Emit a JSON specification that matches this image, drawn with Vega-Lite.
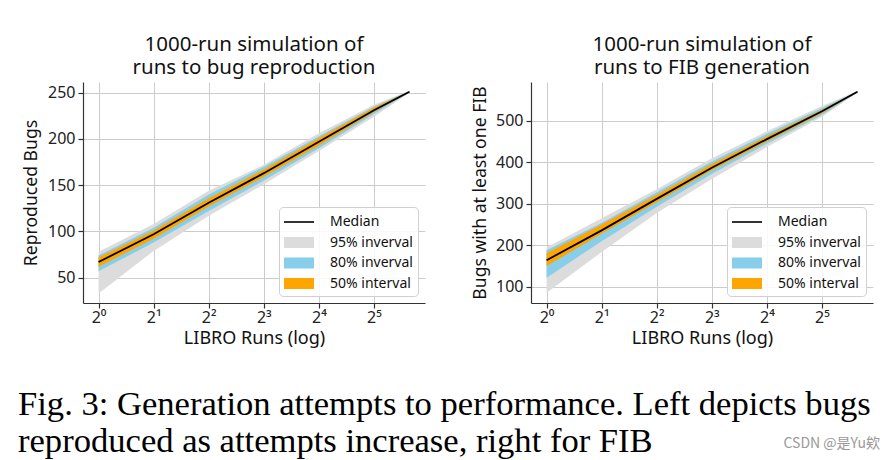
{
  "$schema": "https://vega.github.io/schema/vega-lite/v6.json",
  "autosize": {"type": "pad"},
  "padding": {"left": 18, "top": 34, "right": 0, "bottom": 0},
  "background": "white",
  "datasets": {
    "bugs": [
      {"runs": 1, "median": 67, "lo95": 33, "hi95": 78, "lo80": 57, "hi80": 74, "lo50": 62, "hi50": 72},
      {"runs": 2, "median": 97, "lo95": 79, "hi95": 108, "lo80": 88, "hi80": 104, "lo50": 92, "hi50": 101},
      {"runs": 4, "median": 131, "lo95": 117, "hi95": 144, "lo80": 122, "hi80": 140, "lo50": 127, "hi50": 136},
      {"runs": 8, "median": 163, "lo95": 151, "hi95": 172, "lo80": 155, "hi80": 170, "lo50": 159, "hi50": 167},
      {"runs": 16, "median": 197, "lo95": 187, "hi95": 206, "lo80": 190, "hi80": 203, "lo50": 193, "hi50": 201},
      {"runs": 32, "median": 231, "lo95": 224, "hi95": 237, "lo80": 227, "hi80": 235, "lo50": 229, "hi50": 234},
      {"runs": 50, "median": 251, "lo95": 250, "hi95": 252, "lo80": 250.5, "hi80": 251.5, "lo50": 250.8, "hi50": 251.2}
    ],
    "fib": [
      {"runs": 1, "median": 164, "lo95": 86, "hi95": 195, "lo80": 122, "hi80": 188, "lo50": 150, "hi50": 181},
      {"runs": 2, "median": 236, "lo95": 184, "hi95": 265, "lo80": 210, "hi80": 254, "lo50": 228, "hi50": 250},
      {"runs": 4, "median": 312, "lo95": 278, "hi95": 335, "lo80": 293, "hi80": 328, "lo50": 304, "hi50": 322},
      {"runs": 8, "median": 387, "lo95": 360, "hi95": 410, "lo80": 372, "hi80": 402, "lo50": 381, "hi50": 396},
      {"runs": 16, "median": 456, "lo95": 437, "hi95": 475, "lo80": 445, "hi80": 469, "lo50": 450, "hi50": 463},
      {"runs": 32, "median": 523, "lo95": 510, "hi95": 536, "lo80": 514, "hi80": 531, "lo50": 518, "hi50": 527},
      {"runs": 50, "median": 570, "lo95": 568, "hi95": 572, "lo80": 569, "hi80": 571, "lo50": 569.5, "hi50": 570.5}
    ]
  },
  "config": {
    "font": "Noto Sans",
    "view": {"stroke": null},
    "axis": {
      "labelFont": "Noto Sans", "labelFontSize": 16, "labelColor": "#222",
      "titleFont": "Noto Sans", "titleFontSize": 17.6, "titleFontWeight": "normal", "titleColor": "#111",
      "gridColor": "#cccccc", "gridWidth": 1,
      "domainColor": "#333", "domainWidth": 1.2,
      "tickColor": "#333", "tickSize": 5, "tickWidth": 1.2
    },
    "title": {"font": "Noto Sans", "fontSize": 20.5, "fontWeight": "normal", "color": "#111", "lineHeight": 23, "offset": 4},
    "legend": {
      "orient": "bottom-right", "offset": 7, "padding": 5,
      "fillColor": "rgba(255,255,255,0.85)", "strokeColor": "#d0d0d0", "cornerRadius": 4,
      "labelFont": "Noto Sans", "labelFontSize": 14, "labelColor": "#111",
      "symbolSize": 400, "labelOffset": 26, "rowPadding": 3.5
    }
  },
  "spacing": 39,
  "vconcat": [
    {
      "spacing": 46,
      "resolve": {"scale": {"color": "independent"}, "legend": {"color": "independent"}},
      "hconcat": [
        {
          "width": 342, "height": 221,
          "title": {"text": ["1000-run simulation of", "runs to bug reproduction"]},
          "data": {"name": "bugs"},
          "encoding": {
            "x": {"field": "runs", "type": "quantitative", "title": "LIBRO Runs (log)",
              "scale": {"type": "log", "base": 2, "domain": [0.822, 60.8], "nice": false},
              "axis": {"values": [1, 2, 4, 8, 16, 32], "labelExpr": "'2' + ['⁰','¹','²','³','⁴','⁵'][round(log(datum.value)/log(2))]", "labelPadding": 1, "titlePadding": 4, "titleFontSize": 18}}
          },
          "layer": [
            {"mark": {"type": "area"},
             "encoding": {
               "y": {"field": "lo95", "type": "quantitative", "title": "Reproduced Bugs",
                 "scale": {"domain": [22.7, 261.5], "nice": false, "zero": false},
                 "axis": {"values": [50, 100, 150, 200, 250], "labelPadding": 3, "titlePadding": 7}},
               "y2": {"field": "hi95"},
               "color": {"datum": "95% inverval", "type": "nominal",
                 "scale": {"domain": ["Median", "95% inverval", "80% inverval", "50% interval"], "range": ["#000000", "#dcdcdc", "#87ceeb", "#ffa500"]},
                 "legend": {"title": null,
                   "encode": {"symbols": {"update": {
                     "shape": {"signal": "datum.value === 'Median' ? 'M-1,-0.08H2V0.08H-1Z' : 'M-1,-0.55H2V0.55H-1Z'"},
                     "fill": {"signal": "datum.value === 'Median' ? '#000000' : datum.value === '95% inverval' ? '#dcdcdc' : datum.value === '80% inverval' ? '#87ceeb' : '#ffa500'"},
                     "stroke": {"value": "transparent"}, "strokeWidth": {"value": 0}, "opacity": {"value": 1}}}}}}
             }},
            {"mark": {"type": "area"},
             "encoding": {"y": {"field": "lo80", "type": "quantitative", "title": "Reproduced Bugs"}, "y2": {"field": "hi80"}, "color": {"datum": "80% inverval", "type": "nominal"}}},
            {"mark": {"type": "area"},
             "encoding": {"y": {"field": "lo50", "type": "quantitative", "title": "Reproduced Bugs"}, "y2": {"field": "hi50"}, "color": {"datum": "50% interval", "type": "nominal"}}},
            {"mark": {"type": "line", "strokeWidth": 1.8},
             "encoding": {"y": {"field": "median", "type": "quantitative", "title": "Reproduced Bugs"}, "color": {"datum": "Median", "type": "nominal"}}}
          ]
        },
        {
          "width": 342, "height": 221,
          "title": {"text": ["1000-run simulation of", "runs to FIB generation"]},
          "data": {"name": "fib"},
          "encoding": {
            "x": {"field": "runs", "type": "quantitative", "title": "LIBRO Runs (log)",
              "scale": {"type": "log", "base": 2, "domain": [0.822, 60.8], "nice": false},
              "axis": {"values": [1, 2, 4, 8, 16, 32], "labelExpr": "'2' + ['⁰','¹','²','³','⁴','⁵'][round(log(datum.value)/log(2))]", "labelPadding": 1, "titlePadding": 4, "titleFontSize": 18}}
          },
          "layer": [
            {"mark": {"type": "area"},
             "encoding": {
               "y": {"field": "lo95", "type": "quantitative", "title": "Bugs with at least one FIB",
                 "scale": {"domain": [61, 593.6], "nice": false, "zero": false},
                 "axis": {"values": [100, 200, 300, 400, 500], "labelPadding": 3, "titlePadding": 6}},
               "y2": {"field": "hi95"},
               "color": {"datum": "95% inverval", "type": "nominal",
                 "scale": {"domain": ["Median", "95% inverval", "80% inverval", "50% interval"], "range": ["#000000", "#dcdcdc", "#87ceeb", "#ffa500"]},
                 "legend": {"title": null,
                   "encode": {"symbols": {"update": {
                     "shape": {"signal": "datum.value === 'Median' ? 'M-1,-0.08H2V0.08H-1Z' : 'M-1,-0.55H2V0.55H-1Z'"},
                     "fill": {"signal": "datum.value === 'Median' ? '#000000' : datum.value === '95% inverval' ? '#dcdcdc' : datum.value === '80% inverval' ? '#87ceeb' : '#ffa500'"},
                     "stroke": {"value": "transparent"}, "strokeWidth": {"value": 0}, "opacity": {"value": 1}}}}}}
             }},
            {"mark": {"type": "area"},
             "encoding": {"y": {"field": "lo80", "type": "quantitative", "title": "Bugs with at least one FIB"}, "y2": {"field": "hi80"}, "color": {"datum": "80% inverval", "type": "nominal"}}},
            {"mark": {"type": "area"},
             "encoding": {"y": {"field": "lo50", "type": "quantitative", "title": "Bugs with at least one FIB"}, "y2": {"field": "hi50"}, "color": {"datum": "50% interval", "type": "nominal"}}},
            {"mark": {"type": "line", "strokeWidth": 1.8},
             "encoding": {"y": {"field": "median", "type": "quantitative", "title": "Bugs with at least one FIB"}, "color": {"datum": "Median", "type": "nominal"}}}
          ]
        }
      ]
    },
    {
      "width": 797, "height": 74,
      "layer": [
        {"data": {"values": [
            {"row": "1", "caption": "Fig. 3: Generation attempts to performance. Left depicts bugs"},
            {"row": "2", "caption": "reproduced as attempts increase, right for FIB"}]},
         "mark": {"type": "text", "align": "left", "baseline": "middle", "font": "Liberation Serif", "fontSize": 34.6, "color": "#000000", "dx": -65},
         "encoding": {
           "x": {"datum": 0, "type": "quantitative", "scale": {"domain": [0, 1]}, "axis": null},
           "y": {"field": "row", "type": "ordinal", "axis": null, "scale": {"type": "point", "padding": 0.5}},
           "text": {"field": "caption"}}},
        {"data": {"values": [{"row": "2", "caption": "CSDN @是Yu欸"}]},
         "mark": {"type": "text", "align": "right", "baseline": "middle", "font": "Noto Sans CJK SC", "fontSize": 14, "color": "#999999", "dy": 2},
         "encoding": {
           "x": {"datum": 1, "type": "quantitative"},
           "y": {"field": "row", "type": "ordinal"},
           "text": {"field": "caption"}}}
      ]
    }
  ]
}
